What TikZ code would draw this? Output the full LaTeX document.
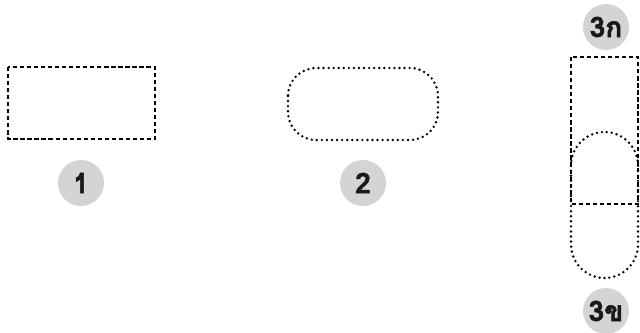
\documentclass[tikz,border=0pt]{standalone}
\usepackage{fontspec}
\newfontfamily\thaifont[Script=Thai, BoldFeatures={FakeBold=2}]{Loma}
\usetikzlibrary{positioning}
\definecolor{badgegray}{HTML}{D4D4D4}
\tikzset{
	badge/.style={circle, fill=badgegray, minimum size=1.15cm, inner sep=0pt,
		font=\thaifont\bfseries\fontsize{20}{20}\selectfont, text=black!90},
	dashline/.style={line width=0.8pt, dash pattern=on 3pt off 2pt},
	dotline/.style={line width=1.9pt, line cap=round, dash pattern=on 0pt off 3.6pt}
}
\begin{document}
\begin{tikzpicture}[x=0.025cm, y=-0.025cm]
	\useasboundingbox (0,0) rectangle (640,332);

	% --- Forma 1: rectangulo ---
	\draw[dashline] (8,67) rectangle (155,139);
	\node[badge] (one) at (81,183) {1};

	% --- Forma 2: rectangulo redondeado ---
	\draw[dotline, rounded corners=0.7cm] (288,68) rectangle (438,140);
	\node[badge] (two) at (363,183) {2};

	% --- Forma 3: superpuestas ---
	\draw[dashline] (571,57) rectangle (638,204);
	\draw[dotline, rounded corners=0.84cm] (571,132) rectangle (638,278);
	\node[badge] (threea) at (606,27) {3ก};
	\node[badge] (threeb) at (606,311) {3ข};
\end{tikzpicture}
\end{document}
